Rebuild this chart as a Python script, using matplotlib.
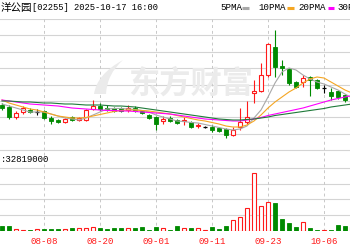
import numpy as np
import matplotlib
matplotlib.use('Agg')
import matplotlib.pyplot as plt
from matplotlib.lines import Line2D
from matplotlib.path import Path
from matplotlib.patches import PathPatch

plt.rcParams['font.family'] = ['Noto Sans CJK SC', 'DejaVu Sans']

# ---------------- data ----------------
dates = ["07-31", "08-01", "08-04", "08-05", "08-06", "08-07", "08-08", "08-11",
         "08-12", "08-13", "08-14", "08-15", "08-18", "08-19", "08-20", "08-21",
         "08-22", "08-25", "08-26", "08-27", "08-28", "08-29", "09-01", "09-02",
         "09-03", "09-04", "09-05", "09-08", "09-09", "09-10", "09-11", "09-12",
         "09-15", "09-16", "09-17", "09-18", "09-19", "09-22", "09-23", "09-24",
         "09-25", "09-26", "09-29", "09-30", "10-02", "10-03", "10-06", "10-08",
         "10-09", "10-10", "10-13"]
opens = [1.45, 1.43, 1.33, 1.38, 1.40, 1.38, 1.39, 1.32, 1.30, 1.28, 1.33, 1.30, 1.30,
         1.41, 1.44, 1.42, 1.42, 1.42, 1.40, 1.42, 1.39, 1.35, 1.33, 1.29, 1.32, 1.30,
         1.29, 1.28, 1.24, 1.23, 1.23, 1.22, 1.21, 1.15, 1.23, 1.28, 1.57, 1.59, 1.75,
         2.03, 1.84, 1.81, 1.68, 1.68, 1.73, 1.70, 1.62, 1.58, 1.59, 1.55, 1.45]
highs = [1.47, 1.45, 1.39, 1.44, 1.42, 1.41, 1.40, 1.34, 1.31, 1.32, 1.34, 1.33, 1.41,
         1.50, 1.47, 1.45, 1.43, 1.43, 1.45, 1.44, 1.40, 1.36, 1.34, 1.34, 1.34, 1.31,
         1.33, 1.29, 1.27, 1.24, 1.25, 1.23, 1.22, 1.23, 1.42, 1.49, 1.70, 1.87, 2.07,
         2.20, 1.90, 1.82, 1.69, 1.75, 1.74, 1.71, 1.65, 1.62, 1.60, 1.56, 1.50]
lows = [1.40, 1.31, 1.31, 1.36, 1.37, 1.35, 1.31, 1.26, 1.27, 1.27, 1.29, 1.29, 1.29,
        1.40, 1.39, 1.39, 1.38, 1.38, 1.38, 1.38, 1.36, 1.31, 1.20, 1.26, 1.28, 1.26,
        1.25, 1.22, 1.22, 1.22, 1.18, 1.18, 1.12, 1.14, 1.20, 1.26, 1.47, 1.58, 1.73,
        1.73, 1.75, 1.65, 1.62, 1.63, 1.54, 1.61, 1.57, 1.50, 1.51, 1.48, 1.44]
closes = [1.42, 1.33, 1.37, 1.42, 1.38, 1.38, 1.32, 1.29, 1.28, 1.31, 1.30, 1.32, 1.40,
          1.44, 1.41, 1.41, 1.39, 1.39, 1.42, 1.39, 1.37, 1.32, 1.26, 1.31, 1.29, 1.27,
          1.30, 1.23, 1.25, 1.23, 1.205, 1.19, 1.15, 1.20, 1.28, 1.33, 1.59, 1.75, 2.06,
          1.83, 1.82, 1.67, 1.63, 1.72, 1.70, 1.62, 1.62, 1.54, 1.53, 1.50, 1.48]
volumes = [32, 32, 13, 6, 6, 13, 13, 13, 13, 13, 19, 19, 19, 25, 19, 13, 19, 19, 19,
           19, 25, 6, 25, 19, 6, 32, 19, 19, 19, 6, 25, 13, 32, 70, 89, 146, 368, 159,
           184, 178, 76, 51, 25, 57, 19, 6, 6, 6, 38, 32, 25]  # millions of shares
ma5 = [1.46, 1.44, 1.42, 1.40, 1.38, 1.38, 1.38, 1.36, 1.34, 1.32, 1.31, 1.30, 1.32,
       1.35, 1.38, 1.41, 1.415, 1.415, 1.41, 1.405, 1.395, 1.38, 1.35, 1.33, 1.31, 1.29,
       1.285, 1.275, 1.27, 1.255, 1.24, 1.225, 1.21, 1.20, 1.21, 1.24, 1.32, 1.40, 1.53,
       1.67, 1.78, 1.82, 1.80, 1.75, 1.71, 1.68, 1.66, 1.63, 1.60, 1.56, 1.52]
ma10 = [1.50, 1.47, 1.45, 1.43, 1.41, 1.40, 1.38, 1.36, 1.34, 1.33, 1.32, 1.32, 1.325,
        1.34, 1.355, 1.37, 1.385, 1.395, 1.40, 1.40, 1.395, 1.39, 1.38, 1.37, 1.36, 1.345,
        1.33, 1.315, 1.30, 1.29, 1.275, 1.26, 1.24, 1.23, 1.23, 1.25, 1.29, 1.35, 1.42,
        1.48, 1.53, 1.58, 1.62, 1.67, 1.71, 1.73, 1.72, 1.68, 1.64, 1.60, 1.57]
ma20 = [1.50, 1.49, 1.48, 1.47, 1.46, 1.455, 1.45, 1.445, 1.44, 1.43, 1.42, 1.415, 1.41,
        1.405, 1.40, 1.395, 1.395, 1.39, 1.39, 1.385, 1.38, 1.375, 1.37, 1.365, 1.36, 1.35,
        1.34, 1.33, 1.32, 1.31, 1.305, 1.30, 1.295, 1.29, 1.29, 1.30, 1.31, 1.325, 1.345,
        1.36, 1.375, 1.39, 1.405, 1.42, 1.44, 1.46, 1.48, 1.50, 1.515, 1.53, 1.545]
ma30 = [1.49, 1.49, 1.485, 1.48, 1.48, 1.475, 1.47, 1.47, 1.465, 1.46, 1.46, 1.455, 1.45,
        1.45, 1.45, 1.445, 1.44, 1.44, 1.435, 1.43, 1.42, 1.41, 1.40, 1.39, 1.38, 1.37,
        1.36, 1.35, 1.34, 1.33, 1.32, 1.31, 1.305, 1.30, 1.30, 1.305, 1.31, 1.32, 1.33,
        1.345, 1.355, 1.365, 1.375, 1.385, 1.395, 1.405, 1.415, 1.43, 1.44, 1.45, 1.46]
tick_labels = ["08-08", "08-20", "09-01", "09-11", "09-23", "10-06"]
legend_names = ["5PMA", "10PMA", "20PMA", "30PMA"]
title_name = "洋公园"
title_rest = "[02255] 2025-10-17 16:00"
volume_text = ":32819000"
watermark = "东方财富"

# ---------------- style ----------------
RED = '#ff1a1a'
GREEN = '#008a00'
MA_COLORS = ['#a8a8a8', '#f5a623', '#ff00ff', '#1f7a3a']
GRID = '#d4d4d4'
MONO = ['Liberation Mono', 'Noto Sans CJK SC']
WM = '#ebebeb'

W, H = 350, 250
fig = plt.figure(figsize=(W / 100, H / 100), dpi=100)
fig.patch.set_facecolor('white')


def fy(py):
    return 1 - py / H


x = np.arange(len(dates))
xl = (-2 / 7, 348 / 7)
bw = 0.7

# ---------------- price axes ----------------
ax = fig.add_axes([0, fy(150), 1, (150 - 19) / H])
ax.set_xlim(*xl)
ax.set_ylim(1.00, 2.31)
ax.axis('off')
for v in np.linspace(1.00, 2.31, 9):
    ax.axhline(v, color=GRID, lw=0.8, zorder=0)

tick_pos = [dates.index(t) for t in tick_labels]
for t in tick_pos:
    ax.axvline(t, color='#c8c8c8', lw=0.7, ls=(0, (3, 3)), zorder=0)

# watermark (text + simple swoosh logo)
ax.text(0.545, 0.51, watermark, transform=ax.transAxes, ha='center', va='center',
        fontsize=22.5, fontweight='bold', color=WM, zorder=0.5,
        family=['Noto Sans CJK SC'])
logo_px = [(94, 94), (97, 74), (123, 60), (107, 74), (106, 94), (100, 94), (94, 94)]
logo_codes = [Path.MOVETO, Path.CURVE3, Path.CURVE3, Path.CURVE3, Path.CURVE3,
              Path.LINETO, Path.CLOSEPOLY]
logo = Path([(px / W, fy(py)) for px, py in logo_px], logo_codes)
fig.add_artist(PathPatch(logo, facecolor=WM, edgecolor='none', zorder=0.5))

o = np.array(opens); c = np.array(closes); h = np.array(highs); l = np.array(lows)
up = c > o
dn = c < o
eq = c == o
col = np.where(up, RED, np.where(dn, GREEN, 'black'))
ax.vlines(x, l, h, colors=col, lw=0.8, zorder=2)
ax.bar(x[up], (c - o)[up], bottom=o[up], width=bw, facecolor='white',
       edgecolor=RED, lw=0.8, zorder=2.5)
ax.bar(x[dn], (c - o)[dn], bottom=o[dn], width=bw, facecolor=GREEN,
       edgecolor=GREEN, lw=0.6, zorder=2.5)
ax.hlines(o[eq], x[eq] - bw / 2, x[eq] + bw / 2, colors='black', lw=0.9, zorder=2.5)

for series, cc in zip([ma5, ma10, ma20, ma30], MA_COLORS):
    ax.plot(x, series, color=cc, lw=0.8, zorder=3)

# ---------------- volume axes ----------------
vx = fig.add_axes([0, fy(231), 1, (231 - 150) / H])
vx.set_xlim(*xl)
vx.set_ylim(0, 514)
vx.axis('off')
vx.axhline(514, color=GRID, lw=0.8, zorder=0)
for v in [100, 200, 300, 400]:
    vx.axhline(v, color=GRID, lw=0.8, zorder=0)
for t in tick_pos:
    vx.axvline(t, color='#c8c8c8', lw=0.7, ls=(0, (3, 3)), zorder=0)
vol = np.array(volumes)
vup = c >= o
vx.bar(x[vup], vol[vup], width=bw, facecolor='white', edgecolor=RED, lw=0.8, zorder=2)
vx.bar(x[~vup], vol[~vup], width=bw, facecolor=GREEN, edgecolor=GREEN, lw=0.6, zorder=2)

fig.text(0.5 / W, fy(160), volume_text, ha='left', va='center', fontsize=6.5,
         family=MONO, color='black')

# ---------------- x tick labels ----------------
for t, lab in zip(tick_pos, tick_labels):
    xf = (2 + 7 * t) / W
    fig.text(xf, fy(241), lab, ha='center', va='center', fontsize=6.6,
             family=MONO, color=RED)

# ---------------- header ----------------
fig.text(0.5 / W, fy(8), title_name, ha='left', va='center', fontsize=7.6,
         family=['Noto Sans CJK SC'], color='black')
fig.text(32 / W, fy(8), title_rest, ha='left', va='center', fontsize=6.3,
         family=MONO, color='black')

leg_x = [220, 258, 298, 337]
dash_x = [(242, 249), (287, 294), (328, 334), (372, 378)]
for name, lx, (d0, d1), cc in zip(legend_names, leg_x, dash_x, MA_COLORS):
    fig.text(lx / W, fy(8), name, ha='left', va='center', fontsize=6.6,
             family=MONO, color='black')
    fig.add_artist(Line2D([d0 / W, d1 / W], [fy(8), fy(8)], color=cc, lw=2.2,
                          solid_capstyle='butt'))

fig.savefig('out.png', dpi=100)
